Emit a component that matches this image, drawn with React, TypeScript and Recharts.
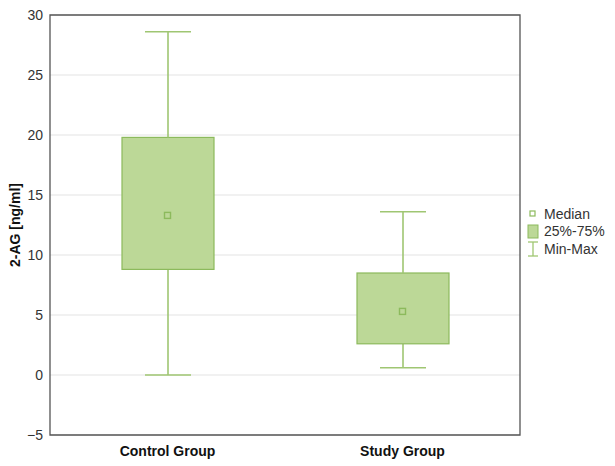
import {
  Bar,
  CartesianGrid,
  ComposedChart,
  Line,
  ReferenceArea,
  XAxis,
  YAxis,
} from "recharts";

const categories = ["Control Group", "Study Group"];
const mins = [0.0, 0.6];
const q1s = [8.8, 2.6];
const medians = [13.3, 5.3];
const q3s = [19.8, 8.5];
const maxs = [28.6, 13.6];
const yTicks = [-5, 0, 5, 10, 15, 20, 25, 30];

const BOX_FILL = "#bcd897";
const BOX_STROKE = "#8cba5c";
const WHISKER = "#9fc672";
const TEXT = "#333";

const data = categories.map((name, i) => ({
  name,
  base: mins[i],
  lower: q1s[i] - mins[i],
  box: q3s[i] - q1s[i],
  upper: maxs[i] - q3s[i],
  median: medians[i],
}));

const LowerWhisker = (props: any) => {
  const { x, y, width, height } = props;
  const cx = x + width / 2;
  const cap = width / 4;
  return (
    <g stroke={WHISKER} strokeWidth={1.6}>
      <line x1={cx} x2={cx} y1={y} y2={y + height} />
      <line x1={cx - cap} x2={cx + cap} y1={y + height} y2={y + height} />
    </g>
  );
};

const UpperWhisker = (props: any) => {
  const { x, y, width, height } = props;
  const cx = x + width / 2;
  const cap = width / 4;
  return (
    <g stroke={WHISKER} strokeWidth={1.6}>
      <line x1={cx} x2={cx} y1={y} y2={y + height} />
      <line x1={cx - cap} x2={cx + cap} y1={y} y2={y} />
    </g>
  );
};

const BoxShape = (props: any) => {
  const { x, y, width, height } = props;
  return (
    <rect
      x={x}
      y={y}
      width={width}
      height={height}
      fill={BOX_FILL}
      stroke={BOX_STROKE}
      strokeWidth={1.2}
    />
  );
};

const MedianDot = (props: any) => {
  const { cx, cy } = props;
  if (cx == null || cy == null) return null;
  return (
    <rect
      key={`m-${cx}`}
      x={cx - 3}
      y={cy - 3}
      width={6}
      height={6}
      fill={BOX_FILL}
      stroke={BOX_STROKE}
      strokeWidth={1.4}
    />
  );
};

function BoxLegend() {
  const row = { display: "flex", alignItems: "center", height: 17.5 } as const;
  const label = { marginLeft: 5, fontSize: 14, color: TEXT } as const;
  return (
    <div style={{ position: "absolute", left: 519, top: 197 }}>
      <div style={row}>
        <svg width={12} height={12}>
          <rect x={3} y={3} width={5} height={5} fill="#fff" stroke={BOX_STROKE} strokeWidth={1.2} />
        </svg>
        <span style={label}>Median</span>
      </div>
      <div style={row}>
        <svg width={12} height={15}>
          <rect x={1} y={1} width={10} height={13} fill={BOX_FILL} stroke={BOX_STROKE} strokeWidth={1} />
        </svg>
        <span style={label}>25%-75%</span>
      </div>
      <div style={row}>
        <svg width={12} height={16}>
          <g stroke={WHISKER} strokeWidth={1.3}>
            <line x1={1} x2={11} y1={1} y2={1} />
            <line x1={6} x2={6} y1={1} y2={15} />
            <line x1={1} x2={11} y1={15} y2={15} />
          </g>
        </svg>
        <span style={label}>Min-Max</span>
      </div>
    </div>
  );
}

export default function App() {
  return (
    <div
      style={{
        position: "relative",
        width: 600,
        height: 458,
        fontFamily: "'Liberation Sans', Arial, sans-serif",
      }}
    >
      <ComposedChart
        width={600}
        height={458}
        data={data}
        margin={{ top: 7, right: 88, left: 0, bottom: 8 }}
        barSize={92}
      >
        <CartesianGrid vertical={false} stroke="#e3e3e3" />
        <XAxis
          dataKey="name"
          height={23}
          axisLine={false}
          tickLine={false}
          tickSize={5}
          tickMargin={6}
          tick={{ fill: "#111", fontSize: 14, fontWeight: "bold" }}
        />
        <YAxis
          width={42}
          domain={[-5, 30]}
          ticks={yTicks}
          interval={0}
          axisLine={false}
          tickLine={false}
          tickSize={5}
          tickMargin={2}
          tick={{ fill: TEXT, fontSize: 14 }}
          tickFormatter={(v: number) => (v < 0 ? `\u2212${Math.abs(v)}` : `${v}`)}
          label={{
            value: "2-AG [ng/ml]",
            angle: -90,
            position: "center",
            dx: -14,
            style: { fill: "#111", fontSize: 14, fontWeight: "bold" },
          }}
        />
        <Bar dataKey="base" stackId="a" fill="transparent" isAnimationActive={false} />
        <Bar dataKey="lower" stackId="a" shape={LowerWhisker} isAnimationActive={false} />
        <Bar dataKey="box" stackId="a" shape={BoxShape} isAnimationActive={false} />
        <Bar dataKey="upper" stackId="a" shape={UpperWhisker} isAnimationActive={false} />
        <Line
          dataKey="median"
          stroke="none"
          dot={MedianDot}
          activeDot={false}
          isAnimationActive={false}
        />
        <ReferenceArea
          y1={-5}
          y2={30}
          fill="none"
          stroke="#555"
          strokeWidth={1.3}
          ifOverflow="visible"
        />
      </ComposedChart>
      <BoxLegend />
    </div>
  );
}
